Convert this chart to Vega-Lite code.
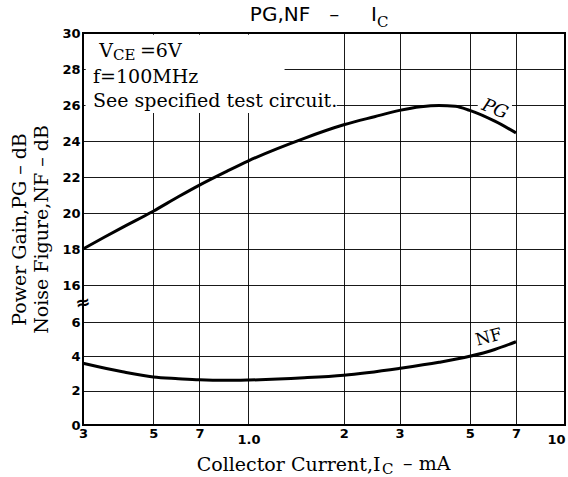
{
  "$schema": "https://vega.github.io/schema/vega-lite/v6.json",
  "width": 482,
  "height": 392,
  "autosize": {"type": "none"},
  "padding": {"left": 83, "top": 33, "right": 3, "bottom": 52},
  "background": "white",
  "config": {
    "view": {"stroke": "black", "strokeWidth": 2},
    "font": "DejaVu Sans"
  },
  "title": {
    "text": "PG,NF\u00a0\u00a0\u00a0–\u00a0\u00a0\u00a0\u00a0\u00a0I",
    "font": "DejaVu Sans",
    "fontSize": 20,
    "fontWeight": "normal",
    "color": "black",
    "anchor": "end",
    "frame": "group",
    "baseline": "alphabetic",
    "dx": -188,
    "offset": -26
  },
  "datasets": {
    "curves": [
      {"series": "PG", "Ic": 0.3, "dB": 18.0},
      {"series": "PG", "Ic": 0.35, "dB": 18.65},
      {"series": "PG", "Ic": 0.4, "dB": 19.2},
      {"series": "PG", "Ic": 0.5, "dB": 20.1},
      {"series": "PG", "Ic": 0.6, "dB": 20.9},
      {"series": "PG", "Ic": 0.7, "dB": 21.55},
      {"series": "PG", "Ic": 0.85, "dB": 22.3},
      {"series": "PG", "Ic": 1.0, "dB": 22.9},
      {"series": "PG", "Ic": 1.5, "dB": 24.15},
      {"series": "PG", "Ic": 2.0, "dB": 24.9},
      {"series": "PG", "Ic": 2.5, "dB": 25.35},
      {"series": "PG", "Ic": 3.0, "dB": 25.7},
      {"series": "PG", "Ic": 3.5, "dB": 25.9},
      {"series": "PG", "Ic": 4.0, "dB": 25.97},
      {"series": "PG", "Ic": 4.5, "dB": 25.93},
      {"series": "PG", "Ic": 5.0, "dB": 25.7},
      {"series": "PG", "Ic": 6.0, "dB": 25.1},
      {"series": "PG", "Ic": 7.0, "dB": 24.45},
      {"series": "NF", "Ic": 0.3, "dB": 3.6},
      {"series": "NF", "Ic": 0.4, "dB": 3.1},
      {"series": "NF", "Ic": 0.5, "dB": 2.8},
      {"series": "NF", "Ic": 0.6, "dB": 2.7},
      {"series": "NF", "Ic": 0.7, "dB": 2.63},
      {"series": "NF", "Ic": 0.85, "dB": 2.6},
      {"series": "NF", "Ic": 1.0, "dB": 2.62},
      {"series": "NF", "Ic": 1.5, "dB": 2.75},
      {"series": "NF", "Ic": 2.0, "dB": 2.9},
      {"series": "NF", "Ic": 3.0, "dB": 3.3},
      {"series": "NF", "Ic": 4.0, "dB": 3.65},
      {"series": "NF", "Ic": 5.0, "dB": 4.0},
      {"series": "NF", "Ic": 6.0, "dB": 4.4},
      {"series": "NF", "Ic": 7.0, "dB": 4.85}
    ],
    "masks": [
      {"Ic": 0.306, "Ic2": 1.3, "dB": 25.55, "dB2": 29.9},
      {"Ic": 0.306, "Ic2": 1.9, "dB": 25.55, "dB2": 26.6},
      {"Ic": 5.3, "Ic2": 6.8, "dB": 25.4, "dB2": 26.3}
    ],
    "notesR": [
      {"Ic": 0.373, "dB": 28.67, "t": "V"}
    ],
    "notes": [
      {"Ic": 0.454, "dB": 28.67, "t": "=6V"},
      {"Ic": 0.3227, "dB": 27.22, "t": "f=100MHz"},
      {"Ic": 0.3227, "dB": 25.89, "t": "See specified test circuit."}
    ],
    "subs": [
      {"Ic": 0.373, "dB": 28.5, "t": "CE"},
      {"Ic": 2.547, "dB": 30.33, "t": "C"},
      {"Ic": 2.64, "dB": -2.85, "t": "C"}
    ],
    "xtail": [
      {"Ic": 3.08, "dB": -2.62, "t": "– mA"}
    ],
    "labels": [
      {"Ic": 6.0, "dB": 25.75, "t": "PG"}
    ],
    "labels2": [
      {"Ic": 5.75, "dB": 5.1, "t": "NF"}
    ],
    "brk": [
      {"Ic": 0.3, "dB": 11.0, "t": "≈"}
    ]
  },
  "encoding": {
    "x": {
      "field": "Ic",
      "type": "quantitative",
      "scale": {"type": "log", "domain": [0.3, 10], "nice": false},
      "axis": {
        "values": [0.3, 0.5, 0.7, 1, 2, 3, 5, 7, 10],
        "labelExpr": "datum.value == 1 ? '1.0' : datum.value < 1 ? format(datum.value * 10, '.0f') : format(datum.value, '.0f')",
        "labelFont": "DejaVu Sans",
        "labelFontWeight": "bold",
        "labelFontSize": 13,
        "labelColor": "black",
        "labelOverlap": false,
        "labelFlush": false,
        "labelBound": false,
        "labelAlign": {"condition": {"test": "datum.value == 10", "value": "right"}, "value": "center"},
        "labelPadding": {"condition": {"test": "datum.value == 1 || datum.value == 10", "value": 8}, "value": 2},
        "ticks": false,
        "domain": false,
        "grid": true,
        "gridColor": "black",
        "gridWidth": 1,
        "gridOpacity": 0.9,
        "title": "Collector Current,I",
        "titleFont": "DejaVu Serif",
        "titleFontSize": 19,
        "titleFontWeight": "normal",
        "titleColor": "black",
        "titleAnchor": "end",
        "titleAlign": "right",
        "titleX": 297,
        "titlePadding": 9
      }
    },
    "y": {
      "field": "dB",
      "type": "quantitative",
      "scale": {"domain": [0, 6, 16, 30], "range": [392, 289, 252, 0], "nice": false, "zero": false},
      "axis": {
        "values": [0, 2, 4, 6, 16, 18, 20, 22, 24, 26, 28, 30],
        "labelFont": "DejaVu Sans",
        "labelFontWeight": "bold",
        "labelFontSize": 13,
        "labelColor": "black",
        "labelPadding": 3,
        "labelOverlap": false,
        "labelBound": false,
        "labelFlush": false,
        "ticks": false,
        "domain": false,
        "grid": true,
        "gridColor": "black",
        "gridWidth": 1,
        "gridOpacity": 0.9,
        "title": ["Power Gain,PG – dB", "Noise Figure,NF – dB"],
        "titleFont": "DejaVu Serif",
        "titleFontSize": 19,
        "titleFontWeight": "normal",
        "titleColor": "black",
        "titleLineHeight": 22,
        "titlePadding": 10
      }
    }
  },
  "layer": [
    {
      "data": {"name": "masks"},
      "mark": {"type": "rect", "fill": "white", "stroke": null},
      "encoding": {"x2": {"field": "Ic2"}, "y2": {"field": "dB2"}}
    },
    {
      "data": {"name": "curves"},
      "mark": {"type": "line", "color": "black", "strokeWidth": 3, "interpolate": "monotone"},
      "encoding": {"detail": {"field": "series"}}
    },
    {
      "data": {"name": "notesR"},
      "mark": {"type": "text", "align": "right", "baseline": "alphabetic", "font": "DejaVu Serif", "fontSize": 19, "color": "black"},
      "encoding": {"text": {"field": "t"}}
    },
    {
      "data": {"name": "notes"},
      "mark": {"type": "text", "align": "left", "baseline": "alphabetic", "font": "DejaVu Serif", "fontSize": 19, "color": "black"},
      "encoding": {"text": {"field": "t"}}
    },
    {
      "data": {"name": "subs"},
      "mark": {"type": "text", "align": "left", "baseline": "alphabetic", "font": "DejaVu Serif", "fontSize": 15, "color": "black", "clip": false},
      "encoding": {"text": {"field": "t"}}
    },
    {
      "data": {"name": "xtail"},
      "mark": {"type": "text", "align": "left", "baseline": "alphabetic", "font": "DejaVu Serif", "fontSize": 19, "color": "black", "clip": false},
      "encoding": {"text": {"field": "t"}}
    },
    {
      "data": {"name": "labels"},
      "mark": {"type": "text", "align": "center", "baseline": "middle", "font": "DejaVu Serif", "fontStyle": "italic", "fontSize": 18, "angle": 22, "color": "black"},
      "encoding": {"text": {"field": "t"}}
    },
    {
      "data": {"name": "labels2"},
      "mark": {"type": "text", "align": "center", "baseline": "middle", "font": "DejaVu Serif", "fontSize": 17, "angle": -15, "color": "black"},
      "encoding": {"text": {"field": "t"}}
    },
    {
      "data": {"name": "brk"},
      "mark": {"type": "text", "align": "center", "baseline": "middle", "font": "DejaVu Sans", "fontWeight": "bold", "fontSize": 18, "angle": -10, "color": "black"},
      "encoding": {"text": {"field": "t"}}
    }
  ]
}
